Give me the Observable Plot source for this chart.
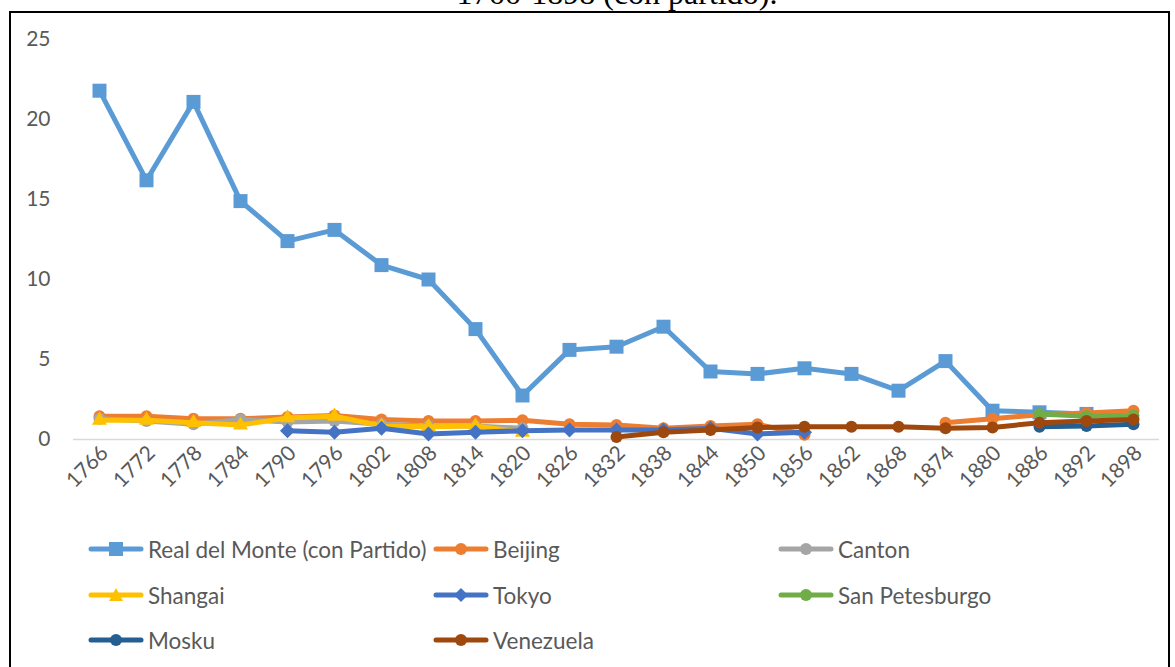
<!DOCTYPE html>
<html><head><meta charset="utf-8">
<script src="https://cdn.jsdelivr.net/npm/d3@7"></script>
<script src="https://cdn.jsdelivr.net/npm/@observablehq/plot@0.6"></script>
<style>
html,body{margin:0;padding:0;background:#fff;width:1175px;height:667px;overflow:hidden;position:relative;}
#title{position:absolute;left:0;width:1234px;text-align:center;top:-23px;font-family:"Liberation Serif","Times New Roman",serif;font-size:32px;line-height:32px;color:#000;white-space:nowrap;}
#frame{position:absolute;left:9px;top:11px;width:1161px;height:700px;border:2px solid #000;box-sizing:border-box;}
#chart{position:absolute;left:0;top:0;}
#legend{position:absolute;left:0;top:0;width:1175px;height:667px;font-family:Lato,sans-serif;font-size:22.5px;color:#595959;}
.item{position:absolute;display:flex;align-items:center;white-space:nowrap;height:30px;}
.item svg{display:block;margin-right:4px;}
</style></head><body>
<div id="title">1766-1898 (con partido).</div>
<div id="frame"></div>
<div id="chart"></div>
<div id="legend"></div>
<script>
const years = [1766,1772,1778,1784,1790,1796,1802,1808,1814,1820,1826,1832,1838,1844,1850,1856,1862,1868,1874,1880,1886,1892,1898];
const realDelMonte = [21.8,16.2,21.1,14.9,12.4,13.1,10.9,10.0,6.9,2.75,5.6,5.8,7.05,4.25,4.1,4.45,4.1,3.05,4.9,1.8,1.7,1.6,null];
const beijing = [1.45,1.45,1.3,1.3,1.4,1.5,1.25,1.15,1.15,1.2,0.95,0.9,0.7,0.85,0.95,0.3,null,null,1.05,1.3,1.55,1.65,1.8];
const canton = [1.3,1.15,0.95,1.25,1.1,1.15,0.95,0.85,0.85,0.7,null,null,null,null,null,null,null,null,null,null,null,null,null];
const shangai = [1.2,1.2,1.05,0.9,1.35,1.45,0.85,0.8,0.85,0.45,null,null,null,null,null,null,null,null,null,null,null,null,null];
const tokyo = [null,null,null,null,0.55,0.45,0.7,0.35,0.45,0.55,0.6,0.6,0.6,0.7,0.35,0.45,null,null,null,null,null,null,null];
const sanPetesburgo = [null,null,null,null,null,null,null,null,null,null,null,null,null,null,null,null,null,null,null,null,1.6,1.45,1.5];
const mosku = [null,null,null,null,null,null,null,null,null,null,null,null,null,null,null,null,null,null,null,null,0.8,0.85,0.95];
const venezuela = [null,null,null,null,null,null,null,null,null,null,null,0.15,0.45,0.6,0.75,0.8,0.8,0.8,0.7,0.75,1.05,1.15,1.25];

const seriesNames = ["Real del Monte (con Partido)","Beijing","Canton","Shangai","Tokyo","San Petesburgo","Mosku","Venezuela"];
const seriesValues = [realDelMonte,beijing,canton,shangai,tokyo,sanPetesburgo,mosku,venezuela];
const seriesColors = ["#5B9BD5","#ED7D31","#A5A5A5","#FFC000","#4472C4","#70AD47","#255E91","#9E480E"];
const seriesMarkers = ["square","circle","circle","triangle","diamond","circle","circle","circle"];
const yTicks = [0,5,10,15,20,25];

const diamondSym = {draw(ctx, size){const d=Math.sqrt(size/2);ctx.moveTo(0,-d);ctx.lineTo(d,0);ctx.lineTo(0,d);ctx.lineTo(-d,0);ctx.closePath();}};
const markerR = {square:7.9, circle:6, triangle:5.6, diamond:6};
function sym(m){return m==="diamond"?diamondSym:m;}

const marks = [
  Plot.ruleY([0],{stroke:"#d9d9d9",strokeWidth:1.5}),
  Plot.axisY({ticks:yTicks,tickSize:0,tickPadding:23,label:null,fontSize:21,fill:"#595959"}),
  Plot.axisX({tickSize:0,tickRotate:-45,tickPadding:10,dx:5,label:null,fontSize:21,fill:"#595959",tickFormat:d=>String(d)})
];
seriesValues.forEach((vals,i)=>{
  const data = years.map((yr,j)=>({year:yr,value:vals[j]}));
  marks.push(Plot.line(data,{x:"year",y:"value",stroke:seriesColors[i],strokeWidth:5,strokeLinejoin:"round",strokeLinecap:"round"}));
  marks.push(Plot.dot(data.filter(d=>d.value!=null),{x:"year",y:"value",fill:seriesColors[i],stroke:"none",symbol:sym(seriesMarkers[i]),r:markerR[seriesMarkers[i]]}));
});

const chart = Plot.plot({
  width:1175,height:500,
  marginLeft:73,marginRight:16,marginTop:39,marginBottom:61,
  style:{fontFamily:"Lato, sans-serif",fontSize:"21px",color:"#595959",background:"transparent"},
  x:{type:"point",domain:years,padding:0.5},
  y:{domain:[0,25]},
  marks
});
document.getElementById("chart").appendChild(chart);

// legend
const legend = document.getElementById("legend");
const colX = [88,433,778];
const rowY = [549,595,640];
seriesNames.forEach((name,i)=>{
  const col = i%3, row = Math.floor(i/3);
  const div = document.createElement("div");
  div.className="item";
  div.style.left = colX[col]+"px";
  div.style.top = (rowY[row]-15)+"px";
  const c = seriesColors[i], m = seriesMarkers[i];
  let mk = "";
  if(m==="square") mk = `<rect x="21" y="3" width="14" height="14" fill="${c}"/>`;
  else if(m==="circle") mk = `<circle cx="28" cy="10" r="6" fill="${c}"/>`;
  else if(m==="triangle") mk = `<path d="M28,3 L35,16 L21,16 Z" fill="${c}"/>`;
  else if(m==="diamond") mk = `<path d="M28,3 L35,10 L28,17 L21,10 Z" fill="${c}"/>`;
  div.innerHTML = `<svg width="56" height="20"><line x1="3" y1="10" x2="53" y2="10" stroke="${c}" stroke-width="5" stroke-linecap="round"/>${mk}</svg><span>${name}</span>`;
  legend.appendChild(div);
});
</script>
</body></html>
